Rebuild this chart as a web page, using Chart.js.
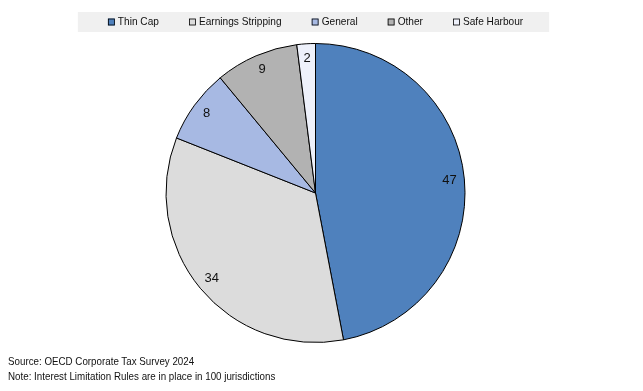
<!DOCTYPE html>
<html>
<head>
<meta charset="utf-8">
<script src="https://cdn.jsdelivr.net/npm/chart.js@4/dist/chart.umd.min.js"></script>
<style>
  html, body { margin: 0; padding: 0; background: #fff; }
  #wrap { position: relative; width: 643px; height: 391px; }
  .note { position: absolute; left: 8px; font: 11.5px/13px "Liberation Sans", Arial, sans-serif; color: #111;
          white-space: nowrap; transform: scaleX(0.85); transform-origin: 0 0; }
</style>
</head>
<body>
<div id="wrap">
  <canvas id="chart" width="643" height="391"></canvas>
  <div class="note" style="top:355px">Source: OECD Corporate Tax Survey 2024</div>
  <div class="note" style="top:369.5px">Note: Interest Limitation Rules are in place in 100 jurisdictions</div>
</div>
<script>
var LABELS = ['Thin Cap', 'Earnings Stripping', 'General', 'Other', 'Safe Harbour'];
var VALUES = [47, 34, 8, 9, 2];
var COLORS = ['#4f81bd', '#dcdcdc', '#a7b9e3', '#b2b2b2', '#eef1fb'];
var FONT = '"Liberation Sans", Arial, sans-serif';

// legend drawn as one grey strip across the top, narrow text like the original
var legendBar = {
    id: 'legendBar',
    afterDraw: function (chart) {
        var ctx = chart.ctx;
        var sx = 0.88, box = 7, gapText = 3, gapItem = 30;
        ctx.save();
        ctx.font = '11.5px ' + FONT;
        var widths = LABELS.map(function (l) { return ctx.measureText(l).width * sx; });
        var total = 0;
        widths.forEach(function (w) { total += box + gapText + w; });
        total += gapItem * (LABELS.length - 1);
        var cx = (chart.chartArea.left + chart.chartArea.right) / 2;
        var x = cx - total / 2;
        ctx.fillStyle = '#f0f0f0';
        ctx.fillRect(x - 30, 12, total + 56, 20);
        var yMid = 22;
        LABELS.forEach(function (l, i) {
            ctx.fillStyle = COLORS[i];
            ctx.fillRect(x, yMid - 3.5, box, box);
            ctx.strokeStyle = '#000';
            ctx.lineWidth = 0.8;
            ctx.strokeRect(x + 0.5, yMid - 3, box - 1, box - 1);
            ctx.fillStyle = '#111';
            ctx.textBaseline = 'middle';
            ctx.save();
            ctx.translate(x + box + gapText, yMid);
            ctx.scale(sx, 1);
            ctx.fillText(l, 0, 0);
            ctx.restore();
            x += box + gapText + widths[i] + gapItem;
        });
        ctx.restore();
    }
};

// value labels inside slices
var sliceLabels = {
    id: 'sliceLabels',
    afterDatasetsDraw: function (chart) {
        var ctx = chart.ctx;
        var meta = chart.getDatasetMeta(0);
        ctx.save();
        ctx.font = '13px ' + FONT;
        ctx.fillStyle = '#111';
        ctx.textAlign = 'center';
        ctx.textBaseline = 'middle';
        meta.data.forEach(function (arc, i) {
            var mid = (arc.startAngle + arc.endAngle) / 2;
            var r = arc.outerRadius * 0.9;
            ctx.fillText(VALUES[i], arc.x + Math.cos(mid) * r, arc.y + Math.sin(mid) * r);
        });
        ctx.restore();
    }
};

new Chart(document.getElementById('chart'), {
    type: 'pie',
    data: {
        labels: LABELS,
        datasets: [{ data: VALUES, backgroundColor: COLORS, borderColor: '#000', borderWidth: 1 }]
    },
    options: {
        responsive: false,
        animation: false,
        layout: { padding: { left: 0, right: 12, top: 43, bottom: 48 } },
        plugins: {
            legend: { display: false },
            tooltip: { enabled: false }
        }
    },
    plugins: [legendBar, sliceLabels]
});
</script>
</body>
</html>
